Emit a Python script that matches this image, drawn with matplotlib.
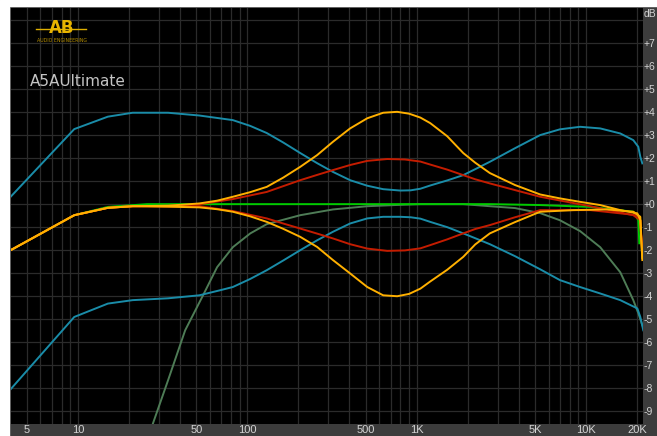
import matplotlib
matplotlib.use('Agg')
import matplotlib.pyplot as plt
from matplotlib.patches import Rectangle
from matplotlib.lines import Line2D

# frequency (Hz) / gain (dB)
teal_hi_f = [4, 9.5, 15, 21, 34, 52, 82, 103.8, 130, 162.5, 205, 258, 320, 404, 510, 633, 800,
             920, 1050, 1200, 1512, 1880, 2213, 2700, 3800, 5350, 7000, 9200, 12100, 15900, 18970,
             20310, 20870, 21450]
teal_hi_db = [0.32, 3.26, 3.80, 3.97, 3.97, 3.85, 3.65, 3.40, 3.09, 2.68, 2.22, 1.78, 1.40, 1.04,
              0.80, 0.65, 0.59, 0.60, 0.67, 0.81, 1.03, 1.26, 1.52, 1.84, 2.43, 3.00, 3.25, 3.36,
              3.29, 3.07, 2.78, 2.49, 2.06, 1.77]

teal_lo_f = [4, 9.5, 15, 21, 34, 52, 69, 82, 103.8, 130, 162.5, 205, 258, 320, 404, 510, 633, 800,
             920, 1050, 1200, 1512, 1880, 2213, 2700, 3800, 5350, 7000, 9200, 12100, 15900, 20040,
             20870, 21730]
teal_lo_db = [-8.04, -4.90, -4.32, -4.17, -4.09, -3.96, -3.74, -3.60, -3.25, -2.87, -2.45, -2.00,
              -1.57, -1.20, -0.84, -0.62, -0.55, -0.55, -0.57, -0.63, -0.77, -1.00, -1.27, -1.48,
              -1.74, -2.26, -2.83, -3.30, -3.60, -3.88, -4.17, -4.53, -4.90, -5.48]

orange_hi_f = [4, 9.5, 15, 21, 34, 52, 66.2, 82, 103.8, 130, 162.5, 205, 258, 320, 404, 510, 633,
               766, 900, 1050, 1200, 1512, 1880, 2213, 2700, 3800, 5350, 7000, 9200, 12100, 15900,
               20040, 20870, 21160, 21450]
orange_hi_db = [-2.0, -0.48, -0.16, -0.09, -0.07, 0.03, 0.15, 0.32, 0.52, 0.75, 1.15, 1.62, 2.13,
                2.71, 3.29, 3.73, 3.97, 4.01, 3.93, 3.76, 3.52, 2.95, 2.22, 1.80, 1.35, 0.83,
                0.42, 0.25, 0.10, -0.04, -0.26, -0.40, -0.70, -1.57, -2.35]

orange_lo_f = [4, 9.5, 15, 21, 34, 52, 66.2, 82, 103.8, 130, 162.5, 205, 258, 320, 404, 510, 633,
               766, 900, 1050, 1200, 1512, 1880, 2213, 2700, 3800, 5350, 8390, 13320, 18970,
               20870, 21160, 21450]
orange_lo_db = [-2.0, -0.48, -0.16, -0.09, -0.11, -0.14, -0.22, -0.33, -0.53, -0.77, -1.07, -1.42,
                -1.86, -2.43, -3.01, -3.60, -3.96, -4.00, -3.90, -3.67, -3.36, -2.85, -2.29,
                -1.75, -1.27, -0.78, -0.33, -0.26, -0.23, -0.33, -0.55, -1.57, -2.43]

red_hi_f = [4, 9.5, 15, 21, 34, 52, 82, 130, 162.5, 205, 258, 320, 404, 510, 669, 850, 1050, 1200,
            1512, 1880, 2213, 2700, 3800, 5350, 10570, 18970, 20870, 21160, 21450]
red_hi_db = [-2.0, -0.48, -0.16, -0.09, -0.07, -0.01, 0.22, 0.53, 0.78, 1.04, 1.27, 1.48, 1.70,
             1.88, 1.96, 1.94, 1.85, 1.72, 1.50, 1.26, 1.08, 0.90, 0.61, 0.32, -0.09, -0.48,
             -0.70, -1.57, -2.0]

red_lo_f = [4, 9.5, 15, 21, 34, 52, 82, 130, 162.5, 205, 258, 320, 404, 510, 669, 850, 1050, 1200,
            1512, 1880, 2213, 2700, 3800, 5350, 10570, 20040, 20870, 21160, 21450]
red_lo_db = [-2.0, -0.48, -0.16, -0.09, -0.10, -0.09, -0.30, -0.62, -0.84, -1.06, -1.28, -1.49,
             -1.74, -1.93, -2.03, -2.01, -1.92, -1.78, -1.53, -1.27, -1.08, -0.91, -0.57, -0.26,
             -0.26, -0.48, -0.70, -1.35, -1.78]

green_f = [4, 9.5, 15, 25.6, 52, 205, 800, 2700, 5350, 10570, 18970, 20310, 20590]
green_db = [-2.0, -0.48, -0.12, 0.0, 0.0, 0.0, 0.0, 0.0, -0.04, -0.12, -0.33, -0.70, -1.70]

hp_f = [26.5, 27.7, 34.0, 42.9, 54.7, 66.2, 82, 104, 130, 205, 320, 510, 800, 1050, 1880, 2700,
        3800, 5350, 7000, 9200, 12100, 15900, 18970, 20310, 21450]
hp_db = [-10.0, -9.52, -7.65, -5.48, -3.96, -2.74, -1.87, -1.27, -0.87, -0.48, -0.23, -0.09,
         -0.03, 0.0, 0.0, -0.09, -0.17, -0.39, -0.70, -1.17, -1.87, -2.96, -4.17, -4.74, -5.26]

x_ticks = [5, 10, 50, 100, 500, 1000, 5000, 10000, 20000]
x_labels = ['5', '10', '50', '100', '500', '1K', '5K', '10K', '20K']
y_ticks = list(range(-9, 9))

W, H = 657, 436
fig = plt.figure(figsize=(W / 100, H / 100), dpi=100, facecolor='#3c3c3c')
fig.add_artist(Rectangle((0, 1 - 6 / H), 1, 6 / H, transform=fig.transFigure,
                         color='white', zorder=-1))
fig.add_artist(Rectangle((0, 0), 9 / W, 1, transform=fig.transFigure,
                         color='white', zorder=-1))

ax = fig.add_axes([11 / W, 12 / H, 631.5 / W, 416 / H])
ax.set_facecolor('black')
ax.set_xscale('log')
ax.set_xlim(4.02, 21500)
ax.set_ylim(-9.55, 8.52)

minor = [m * 10 ** e for e in range(0, 5) for m in range(1, 10) if 4 < m * 10 ** e < 21500]
ax.set_xticks(minor, minor=True)
ax.set_xticks(x_ticks, x_labels)
ax.xaxis.set_minor_formatter(plt.NullFormatter())
ax.set_yticks(y_ticks, ['' if v == 8 else ('+%d' % v if v >= 0 else str(v)) for v in y_ticks])
ax.yaxis.tick_right()
ax.grid(True, which='both', color='#2b2b2b', lw=0.9)
ax.set_axisbelow(True)
ax.tick_params(axis='both', which='both', length=0, labelcolor='#d4d4d4')
ax.tick_params(axis='x', pad=1, labelsize=8)
ax.tick_params(axis='y', pad=1, labelsize=7.5)
for lab in ax.get_xticklabels() + ax.get_yticklabels():
    lab.set_family('Liberation Sans')
for s in ax.spines.values():
    s.set_visible(False)

lw = 1.4
ax.plot(hp_f, hp_db, color='#4e7c56', lw=lw)
ax.plot(teal_hi_f, teal_hi_db, color='#1a8ca8', lw=lw)
ax.plot(teal_lo_f, teal_lo_db, color='#1a8ca8', lw=lw)
ax.plot(green_f, green_db, color='#00cc00', lw=lw)
ax.plot(red_hi_f, red_hi_db, color='#c41c00', lw=lw)
ax.plot(red_lo_f, red_lo_db, color='#c41c00', lw=lw)
ax.plot(orange_hi_f, orange_hi_db, color='#ffb000', lw=lw)
ax.plot(orange_lo_f, orange_lo_db, color='#ffb000', lw=lw)

fig.text(643.5 / W, 1 - 14 / H, 'dB', color='#d4d4d4', fontsize=7.5, va='center', ha='left',
         family='Liberation Sans')

# logo and preset name
fig.add_artist(Line2D([36 / W, 86 / W], [1 - 29 / H, 1 - 29 / H], color='#e0b000', lw=1.0))
fig.text(62 / W, 1 - 28 / H, 'AB', color='#e8b400', fontsize=12, ha='center', va='center',
         fontweight='bold')
fig.text(62 / W, 1 - 41 / H, 'AUDIO ENGINEERING', color='#b89000', fontsize=3.4,
         ha='center', va='center')
fig.text(30 / W, 1 - 82 / H, 'A5AUltimate', color='#c4c4c4', fontsize=11, ha='left', va='center')

fig.savefig('out.png', dpi=100, facecolor=fig.get_facecolor())
